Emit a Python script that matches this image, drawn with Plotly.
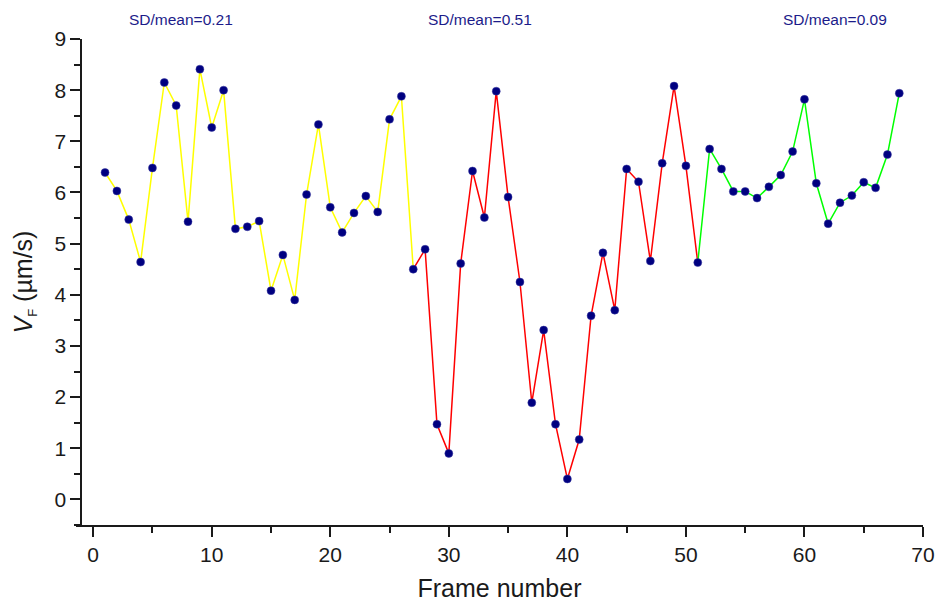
import plotly.graph_objects as go

# Frame index and measured flow velocity V_F (µm/s)
frame = [1, 2, 3, 4, 5, 6, 7, 8, 9, 10, 11, 12, 13, 14, 15, 16, 17, 18, 19, 20,
         21, 22, 23, 24, 25, 26, 27, 28, 29, 30, 31, 32, 33, 34, 35, 36, 37, 38, 39, 40,
         41, 42, 43, 44, 45, 46, 47, 48, 49, 50, 51, 52, 53, 54, 55, 56, 57, 58, 59, 60,
         61, 62, 63, 64, 65, 66, 67, 68]
velocity = [6.39, 6.03, 5.47, 4.64, 6.48, 8.15, 7.70, 5.43, 8.41, 7.27,
            8.00, 5.29, 5.33, 5.44, 4.08, 4.78, 3.90, 5.96, 7.33, 5.71,
            5.22, 5.60, 5.93, 5.62, 7.43, 7.88, 4.50, 4.89, 1.47, 0.90,
            4.61, 6.42, 5.51, 7.98, 5.91, 4.25, 1.89, 3.31, 1.47, 0.40,
            1.17, 3.59, 4.82, 3.70, 6.46, 6.21, 4.66, 6.57, 8.08, 6.52,
            4.63, 6.85, 6.46, 6.02, 6.02, 5.89, 6.11, 6.34, 6.80, 7.82,
            6.18, 5.39, 5.80, 5.94, 6.20, 6.09, 6.74, 7.94]

# Phases: first and last frame of each segment, its colour and its SD/mean label
seg_start = [1, 27, 51]
seg_end = [27, 51, 68]
seg_color = ["#ffff00", "#ff0000", "#00ff00"]
seg_label = ["SD/mean=0.21", "SD/mean=0.51", "SD/mean=0.09"]
label_x = [7.4, 32.6, 62.6]

FONT = "Liberation Sans, Arial, sans-serif"

fig = go.Figure()

for s, e, c in zip(seg_start, seg_end, seg_color):
    xs = [f for f in frame if s <= f <= e]
    ys = [v for f, v in zip(frame, velocity) if s <= f <= e]
    fig.add_trace(go.Scatter(x=xs, y=ys, mode="lines",
                             line=dict(color=c, width=1.5),
                             showlegend=False, hoverinfo="skip"))

fig.add_trace(go.Scatter(x=frame, y=velocity, mode="markers",
                         marker=dict(color="#000080", size=8,
                                     line=dict(color="#3a3aa0", width=0.5)),
                         showlegend=False))

# SD/mean labels sit above the plotting area, centred over each phase
for lx, txt in zip(label_x, seg_label):
    fig.add_annotation(x=lx, y=1, xref="x", yref="paper", yshift=20, text=txt,
                       showarrow=False, font=dict(family=FONT, size=15.5, color="#1c1c8a"),
                       xanchor="center", yanchor="middle")

x_min, x_max = -1.45, 70
y_axis_x = -1

fig.update_layout(
    width=947, height=610,
    margin=dict(l=76, r=14, t=39, b=82),
    paper_bgcolor="white", plot_bgcolor="white",
    font=dict(family=FONT, color="#1a1a1a"),
    xaxis=dict(
        range=[x_min, x_max], domain=[0, 1],
        showgrid=False, zeroline=False,
        showline=True, linecolor="#1a1a1a", linewidth=2,
        ticks="outside", ticklen=10, tickwidth=2, tickcolor="#1a1a1a",
        tickmode="linear", tick0=0, dtick=10,
        minor=dict(ticks="outside", ticklen=6, tickwidth=2, tickcolor="#1a1a1a",
                   tick0=0, dtick=5, showgrid=False),
        tickfont=dict(size=21),
        title=dict(text="Frame number", font=dict(size=25), standoff=14),
    ),
    yaxis=dict(
        range=[-0.5, 9], anchor="free",
        position=(y_axis_x - x_min) / (x_max - x_min),
        showgrid=False, zeroline=False,
        showline=True, linecolor="#1a1a1a", linewidth=2,
        ticks="outside", ticklen=10, tickwidth=2, tickcolor="#1a1a1a",
        tickmode="linear", tick0=0, dtick=1,
        minor=dict(ticks="outside", ticklen=6, tickwidth=2, tickcolor="#1a1a1a",
                   tick0=0, dtick=0.5, showgrid=False),
        tickfont=dict(size=21),
        title=dict(text="<i>V</i><sub><span style='font-size:13px'>F</span></sub> (µm/s)",
                   font=dict(size=25), standoff=14),
    ),
)

fig.write_html("out.html")
